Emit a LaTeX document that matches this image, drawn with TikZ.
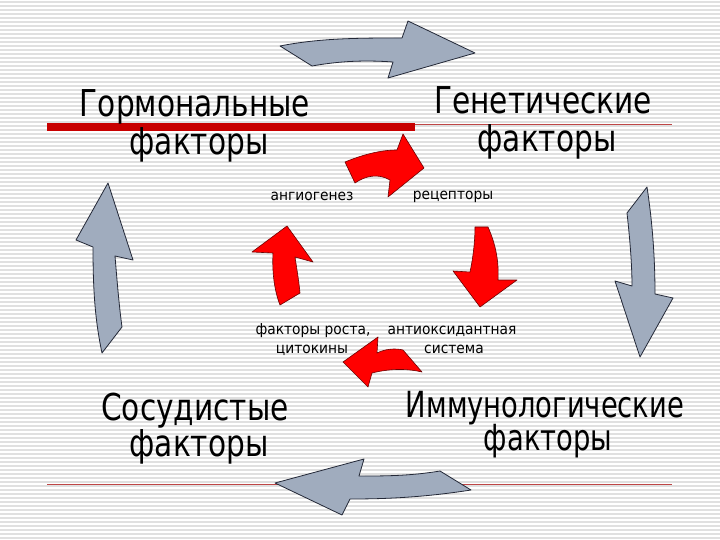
\documentclass[tikz,border=0pt]{standalone}
\usepackage{fontspec}
\setmainfont{DejaVu Sans}
\newfontfamily\bigfontA{DejaVu Sans}[FakeStretch=0.80]
\newfontfamily\bigfontB{DejaVu Sans}[FakeStretch=0.76]
\newfontfamily\smallfont{DejaVu Sans}[FakeStretch=0.92]
\definecolor{grayfill}{RGB}{160,172,190}
\definecolor{grayline}{RGB}{35,40,55}
\definecolor{redfill}{RGB}{255,0,0}
\definecolor{redline}{RGB}{110,0,0}
\definecolor{barred}{RGB}{200,0,0}
\definecolor{thinred}{RGB}{190,70,70}
\definecolor{stripe}{RGB}{224,224,224}
\begin{document}
\begin{tikzpicture}[x=1pt,y=-1pt,
  big/.style={font=\bigfontA\fontsize{37}{44}\selectfont, inner sep=0pt, anchor=base},
  bigb/.style={font=\bigfontB\fontsize{36}{44}\selectfont, inner sep=0pt, anchor=base},
  small/.style={font=\smallfont\fontsize{15}{18}\selectfont, inner sep=0pt, anchor=base},
  garrow/.style={fill=grayfill, draw=grayline, line width=0.8pt, line join=round},
  rarrow/.style={fill=redfill, draw=redline, line width=0.6pt, line join=round}]
\useasboundingbox (0,0) rectangle (720,540);
\fill[white] (0,0) rectangle (720,540);
\foreach \yy in {2,6,...,538} \draw[stripe, line width=1.2pt] (0,\yy) -- (720,\yy);

% rules
\draw[barred, line width=8.5pt] (47,127) -- (415,127);
\draw[thinred, line width=1pt] (415,125) -- (672,125);
\draw[thinred, line width=1pt] (47,484) -- (672,484);

% big labels
\node[big] (horm1) at (195,117) {Гормональные};
\node[big] (horm2) at (199,155) {факторы};
\node[big] (gen1) at (543,114) {Генетические};
\node[big] (gen2) at (547,152) {факторы};
\node[big] (vas1) at (195,420) {Сосудистые};
\node[big] (vas2) at (199,456) {факторы};
\node[bigb] (imm1) at (545,417) {Иммунологические};
\node[bigb] (imm2) at (548,450) {факторы};

% small labels
\node[small] (ang) at (312,201) {ангиогенез};
\node[small] (rec) at (453,200) {рецепторы};
\node[small] (gf1) at (313,334) {факторы роста,};
\node[small] (gf2) at (312,353) {цитокины};
\node[small] (ao1) at (452,334) {антиоксидантная};
\node[small] (ao2) at (454,353) {система};

% gray arrows
\draw[garrow] (280,46) .. controls (320,38) and (360,38) .. (402,38) -- (408,21) -- (475,53)
  -- (388,78) -- (393,62) .. controls (365,60) and (340,61) .. (312,66) -- cycle;
\draw[garrow] (471,490) -- (440,471) .. controls (410,476) and (385,476) .. (359,476) -- (364,459)
  -- (275,483) -- (342,515) -- (350,499) .. controls (380,499) and (420,498) .. cycle;
\draw[garrow] (108,183) -- (133,260) -- (115,256) .. controls (117,280) and (119,305) .. (122,327)
  -- (102,353) .. controls (95,320) and (93,290) .. (93,247) -- (76,240) -- cycle;
\draw[garrow] (647,187) -- (627,213) .. controls (630,240) and (632,265) .. (632,286) -- (615,281)
  -- (640,357) -- (673,298) -- (655,294) .. controls (655,255) and (652,220) .. cycle;

% red arrows
\draw[rarrow] (345,162) .. controls (362,155) and (380,150) .. (397,150) -- (403,134) -- (424,168)
  -- (388,197) -- (390,180) .. controls (378,173) and (365,176) .. (355,183) -- cycle;
\draw[rarrow] (475,227) -- (488,227) .. controls (496,245) and (499,262) .. (498,280) -- (517,280)
  -- (480,307) -- (453,271) -- (470,272) .. controls (473,258) and (475,242) .. cycle;
\draw[rarrow] (403,350) -- (422,372) .. controls (405,368) and (388,369) .. (372,373) -- (368,387)
  -- (343,362) -- (378,337) -- (377,353) .. controls (385,349) and (395,348) .. cycle;
\draw[rarrow] (287,226) -- (313,262) -- (295,257) .. controls (297,270) and (299,282) .. (300,293)
  -- (280,305) .. controls (274,290) and (272,270) .. (273,253) -- (252,252) -- cycle;
\end{tikzpicture}
\end{document}
